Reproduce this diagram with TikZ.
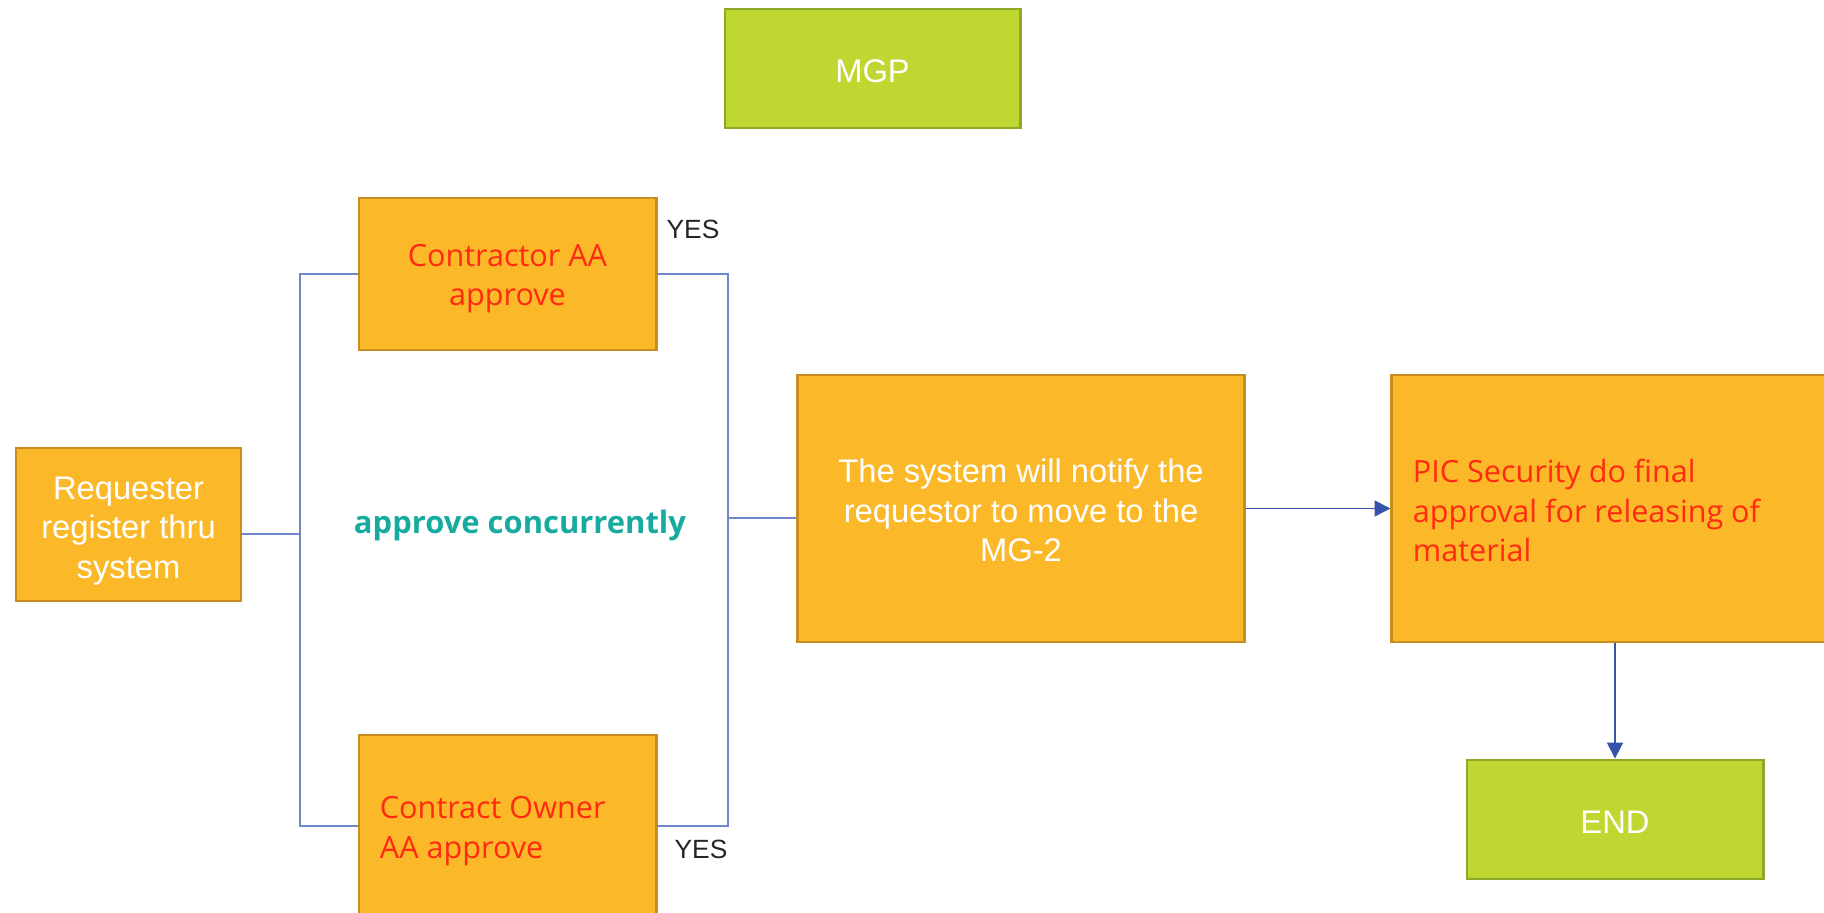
\documentclass[tikz,border=0pt]{standalone}
\usepackage{fontspec}
\setmainfont{Liberation Sans}
\newfontfamily\segoe{Open Sans}
\usetikzlibrary{arrows.meta}

\definecolor{boxorange}{HTML}{FBB829}
\definecolor{boxorangeline}{HTML}{C68E1E}
\definecolor{boxgreen}{HTML}{BFD730}
\definecolor{boxgreenline}{HTML}{8FA82A}
\definecolor{linkblue}{HTML}{7186CC}
\definecolor{arrowblue}{HTML}{3553A8}
\definecolor{textred}{HTML}{FF2A10}
\definecolor{concurteal}{HTML}{17ABA0}

\begin{document}
\begin{tikzpicture}[x=0.01cm, y=-0.01cm,
    every node/.style={inner sep=0pt, font=\fontsize{9.3}{11.2}\selectfont},
    textdrop/.style={execute at begin node={\rule{0pt}{#1}}},
    orangebox/.style={rectangle, draw=boxorangeline, line width=0.8pt, fill=boxorange, align=flush center},
    greenbox/.style={rectangle, draw=boxgreenline, line width=0.8pt, fill=boxgreen, text=white, textdrop=7.8pt},
    redtext/.style={text=textred, font=\segoe\fontsize{8.7}{11.2}\selectfont},
    link/.style={draw=linkblue, line width=0.55pt},
    flow/.style={draw=arrowblue, line width=0.5pt, -{Triangle[length=4.5pt,width=4.5pt]}}]
			\useasboundingbox (0,0) rectangle (1824,913);
			\clip (0,0) rectangle (1824,913);
			
			\node[greenbox, minimum width=2.95cm, minimum height=1.19cm] (mgp) at (872.5,68.5) {MGP};
			\node[orangebox, redtext, textdrop=8.8pt, text width=2.8cm, minimum width=2.97cm, minimum height=1.52cm] (caa) at (507.5,274) {Contractor AA\\approve};
			\node[orangebox, text=white, textdrop=10.1pt, text width=2.1cm, minimum width=2.25cm, minimum height=1.53cm] (req) at (128.5,524.5) {Requester\\register thru\\system};
			\node[orangebox, redtext, textdrop=9.1pt, align=flush left, text width=2.55cm, minimum width=2.97cm, minimum height=1.82cm] (coaa) at (507.5,826) {Contract Owner\\AA approve};
			\node[orangebox, text=white, textdrop=7.9pt, text width=4.2cm, minimum width=4.46cm, minimum height=2.67cm] (notify) at (1021,508.5) {The system will notify the\\requestor to move to the\\MG-2};
			\node[orangebox, redtext, textdrop=7.9pt, align=flush left, text width=4.04cm, minimum width=4.46cm, minimum height=2.67cm] (pic) at (1615,508.5) {PIC Security do final\\approval for releasing of\\material};
			\node[greenbox, minimum width=2.96cm, minimum height=1.19cm] (end) at (1615,819.5) {END};
			
			\node[text=black!85, font=\fontsize{7.5}{9}\selectfont] (yes1) at (693,229) {YES};
			\node[text=black!85, font=\fontsize{7.5}{9}\selectfont] (yes2) at (701,849) {YES};
			\node[text=concurteal, font=\segoe\bfseries\fontsize{8.8}{11}\selectfont] (conc) at (520,525) {approve concurrently};
			
			\coordinate (fork) at (300,534);
			\coordinate (join) at (728,518);
			\path[link] (req.east |- fork) -- (fork);
			\path[link] (caa.west) -| (fork) |- (coaa.west);
			\path[link] (caa.east) -| (join) |- (coaa.east);
			\path[link] (join) -- (join -| notify.west);
			\path[flow] (notify.east) -- (pic.west);
			\path[flow] (pic.south) -- (end.north);
			\end{tikzpicture}
\end{document}
